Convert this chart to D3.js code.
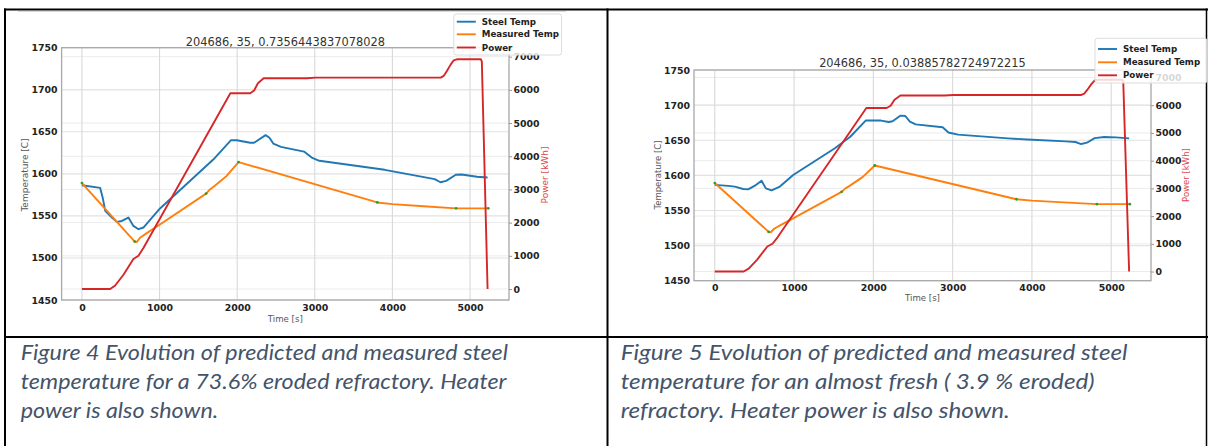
<!DOCTYPE html>
<html><head><meta charset="utf-8">
<script src="https://cdn.jsdelivr.net/npm/d3@7"></script>
<style>body{margin:0;background:#fff;} svg{display:block;}</style>
</head><body>
<svg id="c" width="1208" height="446"></svg>
<script>
// ---------- data ----------
const timeTicks = [0, 1000, 2000, 3000, 4000, 5000];
const tempTicks = [1450, 1500, 1550, 1600, 1650, 1700, 1750];
const powerTicks = [0, 1000, 2000, 3000, 4000, 5000, 6000, 7000];
const seriesNames = ["Steel Temp", "Measured Temp", "Power"];

const measuredTime = [0, 680, 707, 749, 835, 1000, 1600, 1649, 1700, 1864, 2018, 3805, 4000, 4400, 4820, 5235];
const measuredTemp = [1589, 1519.5, 1519, 1524, 1529.5, 1539.5, 1576.5, 1581.5, 1585, 1597.5, 1614, 1566, 1564, 1561.5, 1559, 1559];
const sampleTime = [0, 680, 1600, 2018, 3805, 4820, 5235];
const sampleTemp = [1589, 1519.5, 1576.5, 1614, 1566, 1559, 1559];

const powerTime = [0, 364, 428, 535, 663, 728, 792, 1912, 2168, 2218, 2267, 2341, 2900, 3010, 4623, 4660, 4700, 4750, 4790, 4830, 5140, 5152, 5226];
const powerValue = [0, 0, 108, 430, 904, 1003, 1235, 5900, 5900, 5980, 6200, 6350, 6350, 6370, 6370, 6420, 6560, 6760, 6890, 6920, 6920, 6850, 0];

const steelTimeA = [0, 235, 270, 300, 386, 450, 514, 599, 663, 728, 792, 1006, 1692, 1921, 1995, 2168, 2218, 2366, 2416, 2465, 2564, 2861, 2960, 3059, 3901, 4545, 4619, 4693, 4817, 4891, 5089, 5226];
const steelTempA = [1586.5, 1583.3, 1570.6, 1556, 1548, 1542.9, 1544, 1548, 1538.1, 1534.2, 1536.2, 1558.8, 1617, 1640, 1640, 1637, 1637, 1646, 1643, 1636, 1632, 1626.5, 1619.4, 1615.5, 1604.8, 1593.7, 1590, 1591.7, 1599, 1599.3, 1596.5, 1595.7];

const steelTimeB = [0, 169, 253, 358, 421, 506, 590, 644, 716, 821, 989, 1515, 1709, 1903, 2097, 2194, 2243, 2340, 2403, 2461, 2534, 2874, 2947, 3068, 3699, 3942, 4427, 4549, 4621, 4694, 4791, 4913, 5058, 5226];
const steelTempB = [1586.5, 1585, 1584, 1580.6, 1580, 1585.3, 1592.4, 1581.5, 1578.5, 1584, 1600.6, 1638.5, 1655, 1678, 1678, 1676, 1677, 1685, 1684.5, 1676.4, 1672.6, 1668.4, 1661, 1658, 1652.7, 1651, 1648.4, 1647.5, 1644.6, 1646.5, 1653, 1654.6, 1654, 1652.7];

const titles = ["204686, 35, 0.7356443837078028", "204686, 35, 0.03885782724972215"];
const captionA = ["Figure 4 Evolution of predicted and measured steel",
                  "temperature for a 73.6% eroded refractory. Heater",
                  "power is also shown."];
const captionB = ["Figure 5 Evolution of predicted and measured steel",
                  "temperature for an almost fresh ( 3.9 % eroded)",
                  "refractory. Heater power is also shown."];

// ---------- colours ----------
const C_BLUE = "#1f77b4", C_ORANGE = "#ff7f0e", C_RED = "#d62728", C_GREEN = "#2ca02c";

const svg = d3.select("#c");

// ---------- table ----------
const tbl = svg.append("g");
function hline(x1, x2, y, w) { tbl.append("line").attr("x1", x1).attr("x2", x2).attr("y1", y).attr("y2", y).attr("stroke", "#000").attr("stroke-width", w); }
function vline(x, y1, y2, w) { tbl.append("line").attr("x1", x).attr("x2", x).attr("y1", y1).attr("y2", y2).attr("stroke", "#000").attr("stroke-width", w); }
hline(4, 1208, 9.5, 2);
hline(4, 1208, 337, 2);
vline(5, 8.5, 446, 2);
vline(607.5, 8.5, 446, 2);
vline(1206.5, 8.5, 446, 1.5);
// faint image edge of the left picture
svg.append("line").attr("x1", 18).attr("x2", 566).attr("y1", 11.5).attr("y2", 11.5).attr("stroke", "#d8d8d8").attr("stroke-width", 1);

// ---------- chart ----------
function zip(t, v) { return t.map((d, i) => [d, v[i]]); }

function drawChart(L, steelTime, steelTemp, title) {
  const g = svg.append("g");
  const x = d3.scaleLinear().domain([-262, 5502]).range([L.x0, L.x1]);
  const y = d3.scaleLinear().domain([1450, 1750]).range([L.y1, L.y0]);
  const yp = d3.scaleLinear().domain([-330, 7270]).range([L.y1, L.y0]);

  // grids
  const grid = g.append("g");
  grid.selectAll(".gp").data(powerTicks).join("line")
    .attr("x1", L.x0).attr("x2", L.x1).attr("y1", d => yp(d)).attr("y2", d => yp(d))
    .attr("stroke", "#ececec").attr("stroke-width", 1);
  grid.selectAll(".gt").data(tempTicks).join("line")
    .attr("x1", L.x0).attr("x2", L.x1).attr("y1", d => y(d)).attr("y2", d => y(d))
    .attr("stroke", "#e2e2e2").attr("stroke-width", 1.1);
  grid.selectAll(".gx").data(timeTicks).join("line")
    .attr("x1", d => x(d)).attr("x2", d => x(d)).attr("y1", L.y0).attr("y2", L.y1)
    .attr("stroke", "#d9d9d9").attr("stroke-width", 1.1);

  const line = d3.line().x(d => x(d[0])).y(d => y(d[1]));
  const lineP = d3.line().x(d => x(d[0])).y(d => yp(d[1]));

  g.append("path").attr("d", line(zip(steelTime, steelTemp)))
    .attr("fill", "none").attr("stroke", C_BLUE).attr("stroke-width", 1.9).attr("stroke-linejoin", "round");
  g.append("path").attr("d", line(zip(measuredTime, measuredTemp)))
    .attr("fill", "none").attr("stroke", C_ORANGE).attr("stroke-width", 1.9).attr("stroke-linejoin", "round");
  g.selectAll(".mk").data(zip(sampleTime, sampleTemp)).join("circle")
    .attr("cx", d => x(d[0])).attr("cy", d => y(d[1])).attr("r", 1.4).attr("fill", C_GREEN);
  g.append("path").attr("d", lineP(zip(powerTime, powerValue)))
    .attr("fill", "none").attr("stroke", C_RED).attr("stroke-width", 1.9).attr("stroke-linejoin", "round");

  // spines
  g.append("rect").attr("x", L.x0).attr("y", L.y0).attr("width", L.x1 - L.x0).attr("height", L.y1 - L.y0)
    .attr("fill", "none").attr("stroke", "#a8a8a8").attr("stroke-width", 1.3);

  const tickFont = sel => sel.selectAll("text").attr("font-family", "DejaVu Sans").attr("font-weight", "bold")
    .attr("font-size", 9.4).attr("fill", "#222");

  const ax = g.append("g").attr("transform", `translate(0,${L.y1})`)
    .call(d3.axisBottom(x).tickValues(timeTicks).tickSize(0).tickPadding(L.xPad).tickFormat(d3.format("d")));
  ax.select(".domain").remove(); tickFont(ax);

  const ay = g.append("g").attr("transform", `translate(${L.x0},0)`)
    .call(d3.axisLeft(y).tickValues(tempTicks).tickSize(0).tickPadding(4).tickFormat(d3.format("d")));
  ay.select(".domain").remove(); tickFont(ay);

  const ap = g.append("g").attr("transform", `translate(${L.x1},0)`)
    .call(d3.axisRight(yp).tickValues(powerTicks).tickSize(3).tickPadding(1.5).tickFormat(d3.format("d")));
  ap.select(".domain").remove(); tickFont(ap);
  ap.selectAll("line").attr("stroke", "#999");

  // labels
  g.append("text").attr("x", L.titleX).attr("y", L.titleY).attr("text-anchor", "middle")
    .attr("font-family", "DejaVu Sans").attr("font-size", 11.4).attr("fill", "#333").text(title);
  g.append("text").attr("x", (L.x0 + L.x1) / 2 + L.timeDx).attr("y", L.timeY).attr("text-anchor", "middle")
    .attr("font-family", "DejaVu Sans").attr("font-size", 8.6).attr("fill", "#555").text("Time [s]");
  g.append("text").attr("transform", `translate(${L.tempX},175) rotate(-90)`).attr("text-anchor", "middle")
    .attr("font-family", "DejaVu Sans").attr("font-size", L.rotFont).attr("fill", "#555").attr("dy", "0.35em").text("Temperature [C]");
  g.append("text").attr("transform", `translate(${L.powX},175) rotate(-90)`).attr("text-anchor", "middle")
    .attr("font-family", "DejaVu Sans").attr("font-size", L.rotFont).attr("fill", "#e0484b").attr("dy", "0.35em").text("Power [kWh]");

  // legend
  const lg = svg.append("g");
  lg.append("rect").attr("x", L.lx).attr("y", L.ly).attr("width", L.lw).attr("height", L.lh).attr("rx", 2.5)
    .attr("fill", "#fff").attr("fill-opacity", 0.82).attr("stroke", "#dcdcdc").attr("stroke-width", 1);
  const colors = [C_BLUE, C_ORANGE, C_RED];
  seriesNames.forEach((n, i) => {
    const yy = L.rows[i];
    lg.append("line").attr("x1", L.lx + 3).attr("x2", L.lx + 22).attr("y1", yy).attr("y2", yy)
      .attr("stroke", colors[i]).attr("stroke-width", 1.9);
    lg.append("text").attr("x", L.lx + 28).attr("y", yy).attr("dy", "0.35em")
      .attr("font-family", "DejaVu Sans").attr("font-weight", "bold").attr("font-size", 8.7).attr("fill", "#222").text(n);
  });
}

drawChart({x0: 61.6, x1: 509, y0: 47.7, y1: 300, xPad: 4.3, titleX: 285.4, titleY: 45.5, timeY: 322, timeDx: 0,
  tempX: 25, powX: 545, rotFont: 9, lx: 453.8, ly: 14, lw: 107.8, lh: 41, rows: [21.7, 34.3, 47.5]},
  steelTimeA, steelTempA, titles[0]);
drawChart({x0: 694, x1: 1151, y0: 70, y1: 280.7, xPad: 3.8, titleX: 922.4, titleY: 66.5, timeY: 301, timeDx: 0,
  tempX: 658, powX: 1186, rotFont: 8.5, lx: 1095, ly: 38.3, lw: 112, lh: 44.7, rows: [49, 62.3, 75.3]},
  steelTimeB, steelTempB, titles[1]);

// ---------- captions ----------
function caption(lines, x0, target) {
  const g = svg.append("g");
  const ts = lines.map((t, i) => g.append("text").attr("x", 0).attr("y", 360 + i * 29)
    .attr("font-family", "Lato, 'Open Sans', sans-serif").attr("font-style", "italic")
    .attr("font-size", 22).attr("fill", "#44546A").text(t));
  const w = ts[2].node().getComputedTextLength();
  const sx = target / w;
  g.attr("transform", `translate(${x0},0) scale(${sx},1)`);
}
caption(captionA, 20.7, 197.6);
caption(captionB, 620.7, 389.3);
</script>
</body></html>
